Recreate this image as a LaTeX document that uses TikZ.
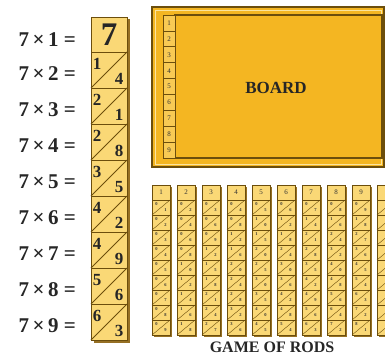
\documentclass[tikz,border=0pt]{standalone}
\usepackage{fontspec}
\setmainfont{Liberation Serif}
\usetikzlibrary{positioning}
\definecolor{rodyellow}{RGB}{250,216,118}
\definecolor{boardgold}{RGB}{244,182,34}
\definecolor{edgebrown}{RGB}{108,78,12}
\definecolor{shadebrown}{RGB}{150,112,36}
\tikzset{
  edge/.style={draw=edgebrown,line width=0.8pt},
  rodcell/.style={edge,fill=rodyellow},
  boardcell/.style={edge,fill=boardgold},
  rodshadow/.style={fill=shadebrown},
  eqlabel/.style={font=\fontsize{21}{21}\selectfont\bfseries,text=black!85,anchor=east,inner sep=0pt},
  bigdigit/.style={font=\fontsize{33}{33}\selectfont\bfseries,text=black!85,inner sep=0pt},
  celldigit/.style={font=\fontsize{17}{17}\selectfont\bfseries,text=black!85,inner sep=0pt},
  tinydigit/.style={font=\fontsize{4.5}{4.5}\selectfont\bfseries,text=black!80,inner sep=0pt},
  smalldigit/.style={font=\fontsize{7}{7}\selectfont,text=black!80,inner sep=0pt},
  title/.style={font=\fontsize{17}{17}\selectfont\bfseries,text=black!85},
}

\begin{document}
\begin{tikzpicture}[x=1pt,y=-1pt]
  \path[use as bounding box] (0,0) rectangle (385,356);
  \clip (0,0) rectangle (385,356);

  % multiplication column of the seven rod
  \fill[rodshadow] (94,19) rectangle (130,343);
  \draw[rodcell] (91,17) rectangle (127,52);
  \node[bigdigit] (seven) at (109,35) {7};
  \node[eqlabel] (eq1) at (76,40) {7\,×\,1 =};
  \foreach \i in {2,...,9}{
    \pgfmathsetmacro{\ytop}{52+36*(\i-2)}
    \pgfmathsetmacro{\ybot}{\ytop+36}
    \pgfmathtruncatemacro{\prod}{7*\i}
    \pgfmathtruncatemacro{\tens}{\prod/10}
    \pgfmathtruncatemacro{\units}{mod(\prod,10)}
    \draw[rodcell] (91,\ytop) rectangle (127,\ybot);
    \draw[edge] (91,\ybot) -- (127,\ytop);
    \node[celldigit] (t\i) at (97,\ytop+12) {\tens};
    \node[celldigit] (u\i) at (119,\ybot-9) {\units};
    \node[eqlabel] (eq\i) at (76,\ytop+22) {7\,×\,\i\ =};
  }

  % board
  \draw[edge,fill=boardgold,line width=1.3pt] (152,7) rectangle (384,167);
  \draw[draw=rodyellow!70,line width=0.6pt] (155,10) rectangle (381,164);
  \draw[boardcell,line width=1.6pt] (175,15) rectangle (382,158);
  \foreach \i in {1,...,9}{
    \pgfmathsetmacro{\ytop}{15+15.9*(\i-1)}
    \draw[boardcell,fill=rodyellow!60!boardgold] (163,\ytop) rectangle (175,\ytop+15.9);
    \node[smalldigit] (b\i) at (169,\ytop+8) {\i};
  }
  \node[title] (board) at (276,88) {BOARD};

  % game of rods, the last one runs off the edge
  \foreach \k in {1,...,10}{
    \pgfmathsetmacro{\xl}{152+25*(\k-1)}
    \fill[rodshadow] (\xl+2,187) rectangle (\xl+20,337);
    \draw[rodcell] (\xl,185) rectangle (\xl+18,200);
    \foreach \j in {1,...,9}{
      \pgfmathsetmacro{\ytop}{200+15*(\j-1)}
      \draw[rodcell] (\xl,\ytop) rectangle (\xl+18,\ytop+15);
      \draw[edge,line width=0.4pt] (\xl,\ytop+15) -- (\xl+18,\ytop);
    }
  }
  \foreach \k in {1,...,9}{
    \pgfmathsetmacro{\xl}{152+25*(\k-1)}
    \node[smalldigit] (r\k) at (\xl+9,192.5) {\k};
    \foreach \j in {1,...,9}{
      \pgfmathsetmacro{\ytop}{200+15*(\j-1)}
      \pgfmathtruncatemacro{\prod}{\k*\j}
      \pgfmathtruncatemacro{\tens}{\prod/10}
      \pgfmathtruncatemacro{\units}{mod(\prod,10)}
      \node[tinydigit] (r\k t\j) at (\xl+4.5,\ytop+4.5) {\tens};
      \node[tinydigit] (r\k u\j) at (\xl+13.5,\ytop+10.5) {\units};
    }
  }
  \node[title,font=\fontsize{16}{16}\selectfont\bfseries] (rods) at (272,347) {GAME OF RODS};
\end{tikzpicture}
\end{document}
